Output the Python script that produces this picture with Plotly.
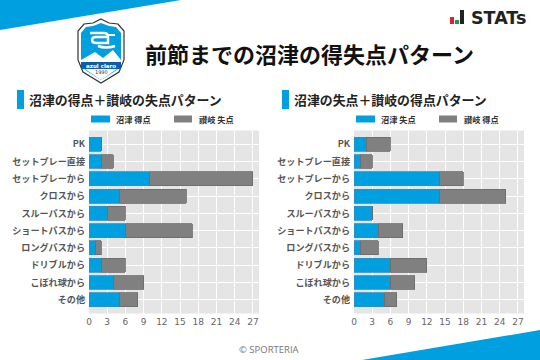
import plotly.graph_objects as go

categories = ["PK", "セットプレー直接", "セットプレーから", "クロスから", "スルーパスから",
              "ショートパスから", "ロングパスから", "ドリブルから", "こぼれ球から", "その他"]
numazu_for = [2, 2, 10, 5, 3, 6, 1, 2, 4, 5]
sanuki_against = [0, 2, 17, 11, 3, 11, 1, 4, 5, 3]
numazu_against = [2, 1, 14, 14, 3, 4, 1, 6, 6, 5]
sanuki_for = [4, 2, 4, 11, 0, 4, 3, 6, 4, 2]
ticks = list(range(0, 28, 3))

W, H = 540, 360
BLUE = "#009fe0"
GRAY = "#808080"
FONT = "Noto Sans CJK JP"

def px(x): return x / W
def py(y): return 1 - y / H

fig = go.Figure()

def add_pair(a, b, xa, ya, name_a, name_b):
    fig.add_trace(go.Bar(y=categories, x=a, orientation="h", width=0.8, xaxis=xa, yaxis=ya,
                         marker=dict(color=BLUE, line=dict(color="#2f8fc0", width=0.8)), showlegend=False, name=name_a))
    fig.add_trace(go.Bar(y=categories, x=b, orientation="h", width=0.8, xaxis=xa, yaxis=ya,
                         marker=dict(color=GRAY, line=dict(color="#6a6a6a", width=0.8)), showlegend=False, name=name_b))

add_pair(numazu_for, sanuki_against, "x", "y", "沼津 得点", "讃岐 失点")
add_pair(numazu_against, sanuki_for, "x2", "y2", "沼津 失点", "讃岐 得点")

xax = dict(range=[0, 28], tickvals=ticks, ticks="", showgrid=True, gridcolor="white", gridwidth=1.2,
           zeroline=False, showline=False, tickfont=dict(family="DejaVu Sans", size=9, color="#666666"),
           ticklen=0, ticklabelstandoff=1)
yax = dict(range=[9.8, -0.8], showgrid=True, gridcolor="white", gridwidth=1.2, ticks="", zeroline=False,
           showline=False, tickfont=dict(family=FONT, size=9.1, color="#555555", weight="bold"), ticklen=0,
           ticklabelstandoff=3, categoryorder="array", categoryarray=categories)

shapes = [
    dict(type="path", path=f"M0,{py(0)} L{px(181)},{py(0)} L0,{py(30)} Z", xref="paper", yref="paper",
         fillcolor=BLUE, line_width=0, layer="below"),
    dict(type="path", path=f"M{px(362)},{py(360)} L{px(540)},{py(330)} L{px(540)},{py(360)} Z", xref="paper",
         yref="paper", fillcolor=BLUE, line_width=0, layer="below"),
]

def rect(x0, y0, x1, y1, color):
    shapes.append(dict(type="rect", xref="paper", yref="paper", x0=px(x0), x1=px(x1), y0=py(y1), y1=py(y0),
                       fillcolor=color, line_width=0))

def poly(points, fill, lw=0, lc="#333333"):
    d = "M" + " L".join(f"{px(a)},{py(b)}" for a, b in points) + " Z"
    shapes.append(dict(type="path", path=d, xref="paper", yref="paper", fillcolor=fill,
                       line=dict(width=lw, color=lc)))

def stroke(commands, width):
    d = " ".join(c + ",".join(f"{px(a) if i % 2 == 0 else py(a)}" for i, a in enumerate(v)) for c, v in commands)
    shapes.append(dict(type="path", path=d, xref="paper", yref="paper",
                       line=dict(color="white", width=width), fillcolor="rgba(0,0,0,0)"))

# section markers and legend keys
rect(17, 90, 24, 109, BLUE)
rect(282, 90, 289, 109, BLUE)
rect(91, 115.5, 110, 122.5, BLUE)
rect(174, 115.5, 192, 122.5, GRAY)
rect(356, 115.5, 375, 122.5, BLUE)
rect(439, 115.5, 457, 122.5, GRAY)

# STATs logo icon
rect(450, 17, 454, 24, "#e0202a")
rect(455, 20, 459, 24, "#1f9a48")
rect(460, 10, 464, 24, "#222222")

# club crest
shield = [(101, 19), (109, 23), (118, 24), (124, 31), (124, 60), (119, 72), (101, 83),
          (83, 72), (78, 60), (78, 31), (84, 24), (93, 23)]
poly(shield, "white", 1.2, "#333333")
inner = [(101, 23), (109, 26), (116, 27), (121, 33), (121, 60), (117, 70), (101, 80),
         (85, 70), (81, 60), (81, 33), (86, 27), (93, 26)]
poly(inner, BLUE)
poly([(81, 64), (81, 60), (95, 52), (103, 58), (113, 50), (121, 60), (121, 64)], "white")
rect(81, 62, 121, 69, "#0a5fa8")
poly([(85, 69), (117, 69), (101, 80)], "white")
# stylised "a" mark of the crest
stroke([("M", (90, 33)), ("L", (104, 33)), ("Q", (108, 33, 108, 37)), ("L", (108, 43)),
        ("L", (96, 43)), ("Q", (92, 43, 92, 40)), ("Q", (92, 37, 96, 37)), ("L", (108, 37))], 2.5)
stroke([("M", (108, 35)), ("L", (115, 35))], 2)
stroke([("M", (98, 46)), ("Q", (106, 49, 115, 46))], 2.5)

def text(x, y, s, size, color="#111111", anchor="left", family=FONT, bold=False):
    return dict(xref="paper", yref="paper", x=px(x), y=py(y), text=f"<b>{s}</b>" if bold else s, showarrow=False,
                xanchor=anchor, yanchor="middle", font=dict(size=size, color=color, family=family))

annotations = [
    text(143, 52.5, "前節までの沼津の得失点パターン", 22, "#111111", bold=True),
    text(27, 99.5, "沼津の得点＋讃岐の失点パターン", 12.9, "#222222", bold=True),
    text(292, 99.5, "沼津の失点＋讃岐の得点パターン", 12.9, "#222222", bold=True),
    text(114, 119, "沼津 得点", 8.2, "#333333", bold=True),
    text(197, 119, "讃岐 失点", 8.2, "#333333", bold=True),
    text(379, 119, "沼津 失点", 8.2, "#333333", bold=True),
    text(462, 119, "讃岐 得点", 8.2, "#333333", bold=True),
    text(269, 349, "© SPORTERIA", 9.5, "#777777", "center", "Open Sans"),
    text(469, 18, "STATs", 17.5, "#222222", family="DejaVu Sans", bold=True),
    text(101, 65.5, "azul claro", 5.5, "white", "center", "DejaVu Sans", True),
    text(101, 72.5, "1990", 5, "#333333", "center", "DejaVu Sans"),
]

fig.update_layout(
    width=W, height=H, margin=dict(l=0, r=0, t=0, b=0, autoexpand=False),
    paper_bgcolor="white", plot_bgcolor="#e5e5e5", barmode="stack", bargap=0.2, showlegend=False,
    xaxis=dict(xax, domain=[px(89), px(259)], anchor="y"),
    yaxis=dict(yax, domain=[py(313.5), py(130.5)], anchor="x"),
    xaxis2=dict(xax, domain=[px(354), px(524)], anchor="y2"),
    yaxis2=dict(yax, domain=[py(313.5), py(130.5)], anchor="x2"),
    shapes=shapes, annotations=annotations,
)

fig.write_html("out.html", config={"displayModeBar": False}, post_script="document.body.style.margin='0';")
